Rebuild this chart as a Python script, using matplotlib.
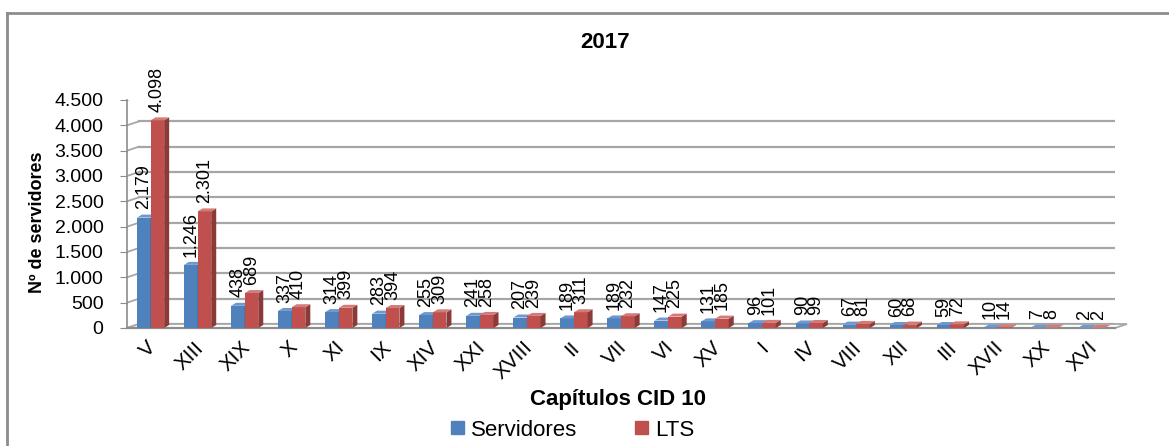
import matplotlib
matplotlib.use("Agg")
import matplotlib.pyplot as plt
from matplotlib.patches import Polygon, Rectangle
from matplotlib.lines import Line2D
import numpy as np

plt.rcParams['font.family'] = ['Liberation Sans', 'DejaVu Sans']

categories = ["V", "XIII", "XIX", "X", "XI", "IX", "XIV", "XXI", "XVIII", "II", "VII",
              "VI", "XV", "I", "IV", "VIII", "XII", "III", "XVII", "XX", "XVI"]
servidores = [2179, 1246, 438, 337, 314, 283, 255, 241, 207, 189, 189,
              147, 131, 96, 90, 67, 60, 59, 10, 7, 2]
lts = [4098, 2301, 689, 410, 399, 394, 309, 258, 239, 311, 232,
       225, 185, 101, 99, 81, 68, 72, 14, 8, 2]
y_ticks = [0, 500, 1000, 1500, 2000, 2500, 3000, 3500, 4000, 4500]
series_names = ["Servidores", "LTS"]
title = "2017"


def fmt(v):
    return f"{v:,}".replace(',', '.')


W, H = 1169, 446
fig = plt.figure(figsize=(W / 100, H / 100), dpi=100)

# plot area in pixels (front face of the 3D box)
left_px, right_px = 127, 1115
y0_px, ytop_px = 328, 100
ax = fig.add_axes([left_px / W, (H - y0_px) / H, (right_px - left_px) / W, (y0_px - ytop_px) / H])
n = len(categories)
ax.set_xlim(-0.5, n - 0.5)
ax.set_ylim(0, 4500)
ax.set_facecolor('none')
for s in ['top', 'right', 'bottom']:
    ax.spines[s].set_visible(False)
ax.spines['left'].set_color('#8c8c8c')
ax.spines['left'].set_linewidth(1.2)

# pixel -> data conversion for the depth effect
px_x = n / (right_px - left_px)
px_y = 4500 / (y0_px - ytop_px)
depth_dx, depth_dy = 12 * px_x, 4 * px_y
xmin, xmax = -0.5, n - 0.5
grid_c = '#a6a6a6'

# side wall and back wall gridlines
for v in y_ticks:
    ax.add_line(Line2D([xmin, xmin + depth_dx], [v, v + depth_dy], color=grid_c, lw=1.3, zorder=1))
    ax.add_line(Line2D([xmin + depth_dx, xmax + depth_dx], [v + depth_dy, v + depth_dy],
                       color=grid_c, lw=1.6, zorder=1))
# floor
ax.add_patch(Polygon([[xmin, 0], [xmax, 0], [xmax + depth_dx, depth_dy], [xmin + depth_dx, depth_dy]],
                     closed=True, facecolor='white', edgecolor='#a6a6a6', lw=1.3, zorder=1.5,
                     clip_on=False))
ax.add_line(Line2D([xmin, xmax], [0, 0], color='#8c8c8c', lw=1.6, zorder=2, clip_on=False))

x = np.arange(n)
w = 0.29
colors = [('#4F81BD', '#3A6193', '#7098CC'), ('#C0504D', '#8C3A38', '#D27B78')]
bdx, bdy = 5 * px_x, 3 * px_y
for k, (vals, (fc, sc, tc)) in enumerate(zip([servidores, lts], colors)):
    xs = x - w / 2 if k == 0 else x + w / 2
    bars = ax.bar(xs, vals, w, color=fc, zorder=3, label=series_names[k], linewidth=0)
    for b, v in zip(bars, vals):
        x0 = b.get_x()
        x1 = x0 + b.get_width()
        ax.add_patch(Polygon([[x1, 0], [x1 + bdx, bdy], [x1 + bdx, v + bdy], [x1, v]],
                             closed=True, facecolor=sc, lw=0, zorder=3))
        ax.add_patch(Polygon([[x0, v], [x1, v], [x1 + bdx, v + bdy], [x0 + bdx, v + bdy]],
                             closed=True, facecolor=tc, lw=0, zorder=3))
        ax.annotate(fmt(v), (x0 + w / 2, v), xytext=(0, 6),
                    textcoords='offset points', rotation=90, ha='center', va='bottom',
                    fontsize=13, color='black', zorder=5)

ax.set_yticks(y_ticks)
ax.set_yticklabels([fmt(v) for v in y_ticks], fontsize=14)
ax.tick_params(axis='y', length=5, color='#8c8c8c', pad=12)
ax.set_xticks(x)
ax.set_xticklabels([])
ax.tick_params(axis='x', length=0)
for i, c in enumerate(categories):
    ax.annotate(c, (i, 0), xytext=(2, -12), textcoords='offset points',
                rotation=45, rotation_mode='anchor', ha='right', va='center', fontsize=15)

# y axis title
fig.text(37 / W, 1 - 222 / H, "Nº de servidores", rotation=90, ha='center', va='center',
         fontsize=13, fontweight='bold')
# title and x axis title
fig.text(605 / W, 1 - 42 / H, title, ha='center', va='center', fontsize=16, fontweight='bold')
fig.text(618 / W, 1 - 400 / H, "Capítulos CID 10", ha='center', va='center', fontsize=16,
         fontweight='bold')

# legend
handles = [Rectangle((0, 0), 1, 1, color=colors[0][0]), Rectangle((0, 0), 1, 1, color=colors[1][0])]
fig.legend(handles, series_names, loc='center', bbox_to_anchor=(573 / W, 1 - 430 / H), ncol=2,
           frameon=False, fontsize=16, handlelength=0.55, handleheight=0.55, handletextpad=0.35,
           columnspacing=2.6, borderaxespad=0)

# outer frame (open on the right and bottom edges)
fig.add_artist(Line2D([7 / W, 7 / W], [0, 1 - 13 / H], color='#8c8c8c', lw=2, transform=fig.transFigure))
fig.add_artist(Line2D([7 / W, 1], [1 - 13 / H, 1 - 13 / H], color='#8c8c8c', lw=2, transform=fig.transFigure))

fig.savefig("out.png", dpi=100)
